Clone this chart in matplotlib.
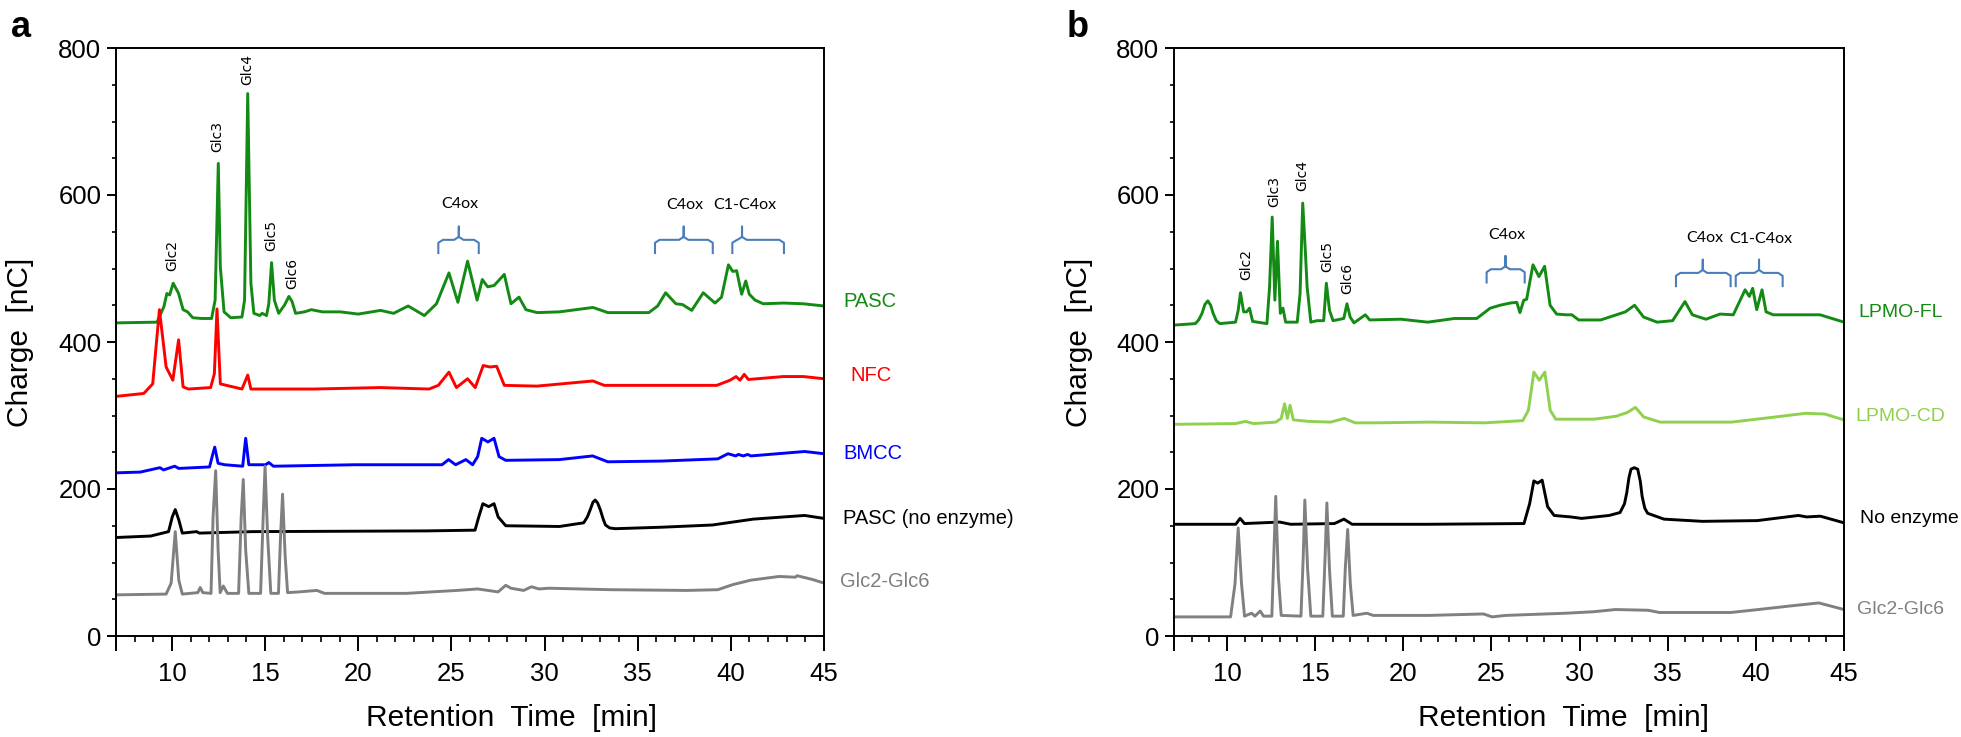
import matplotlib
matplotlib.use("Agg")
import matplotlib.pyplot as plt
from matplotlib.ticker import MultipleLocator, FixedLocator

plt.rcParams['font.family'] = ['Liberation Sans', 'DejaVu Sans']

# ---------------- Panel a data (retention time [min], charge [nC]) -------------
pasc_t = [7, 9.2, 9.57, 9.73, 9.88, 10.07, 10.36, 10.6, 10.84, 11.12, 11.6, 12.13, 12.32, 12.49, 12.6,
          12.8, 13.16, 13.76, 13.9, 14.07, 14.24, 14.4, 14.72, 14.84, 15.08, 15.2, 15.35, 15.5, 15.73,
          16.04, 16.28, 16.45, 16.64, 17.12, 17.48, 18.08, 19.04, 20.0, 21.2, 21.9, 22.68, 23.55, 24.2,
          24.87, 25.35, 25.87, 26.38, 26.66, 26.95, 27.3, 27.84, 28.2, 28.63, 29.0, 29.6, 30.8, 32.6,
          33.4, 35.6, 36.07, 36.5, 37.05, 37.4, 37.9, 38.52, 39.15, 39.5, 39.87, 40.1, 40.31, 40.58,
          40.8, 40.99, 41.3, 41.74, 42.82, 43.89, 45]
pasc_v = [426, 427, 448, 466, 464, 480, 466, 444, 441, 433, 432, 432, 457, 643, 502,
          441, 433, 434, 457, 738, 480, 439, 436, 439, 436, 452, 508, 457, 439,
          450, 462, 455, 439, 441, 444, 441, 441, 438, 443, 439, 449, 436, 452,
          494, 454, 510, 457, 485, 475, 477, 492, 452, 461, 444, 440, 441, 447,
          440, 440, 449, 467, 452, 451, 443, 467, 453, 461, 505, 496, 497, 465,
          483, 465, 457, 452, 453, 452, 449]

nfc_t = [7, 8.49, 8.97, 9.33, 9.69, 10.05, 10.36, 10.6, 10.88, 12.08, 12.28, 12.42, 12.6, 13.76,
         14.07, 14.24, 17.6, 21.2, 23.8, 24.3, 24.87, 25.27, 25.87, 26.28, 26.71, 27.07, 27.43,
         27.84, 29.6, 32.6, 33.2, 36.8, 39.24, 39.96, 40.28, 40.49, 40.72, 40.94, 42.82, 43.89, 45]
nfc_v = [326, 330, 343, 444, 366, 348, 403, 339, 336, 338, 357, 445, 343, 336,
         355, 336, 336, 338, 336, 341, 359, 338, 350, 338, 368, 366, 367,
         341, 340, 347, 341, 341, 341, 348, 353, 348, 356, 349, 353, 353, 350]

bmcc_t = [7, 8.3, 9.36, 9.55, 10.15, 10.37, 12.02, 12.2, 12.3, 12.48, 12.84, 13.8, 13.96, 14.13,
          15.03, 15.2, 15.45, 19.83, 24.5, 24.85, 25.23, 25.78, 26.14, 26.41, 26.63, 26.96, 27.29,
          27.56, 27.92, 30.8, 32.58, 33.4, 36.28, 39.3, 39.85, 40.26, 40.4, 40.67, 40.9, 41.08,
          43.96, 45]
bmcc_v = [222, 223, 229, 226, 231, 228, 230, 248, 257, 235, 233, 231, 269, 233,
          233, 236, 231, 233, 233, 240, 233, 240, 233, 244, 269, 264, 269,
          244, 239, 240, 245, 237, 238, 241, 248, 245, 247, 245, 247, 245,
          251, 248]

pasc_ne_t = [7, 8.86, 9.82, 10.02, 10.18, 10.37, 10.56, 11.33, 11.47, 14.35, 23.67, 26.27, 26.47,
             26.69, 27.0, 27.29, 27.51, 27.92, 30.8, 32.1, 32.3, 32.44, 32.6, 32.72, 32.85, 32.99,
             33.15, 33.27, 33.5, 33.8, 36.28, 39.0, 41.2, 43.96, 45]
pasc_ne_v = [134, 136, 142, 162, 172, 158, 140, 142, 140, 142, 143, 144, 162,
             180, 176, 180, 162, 150, 149, 154, 162, 171, 182, 185, 181, 172,
             159, 151, 147, 146, 148, 151, 159, 164, 160]

glc_a_t = [7, 9.69, 9.96, 10.18, 10.37, 10.56, 11.39, 11.52, 11.66, 12.1, 12.21, 12.35, 12.48, 12.59,
           12.76, 12.98, 13.58, 13.72, 13.83, 13.96, 14.13, 14.76, 14.9, 15.0, 15.14, 15.31, 15.72,
           15.83, 15.94, 16.08, 16.21, 16.82, 17.78, 18.19, 22.57, 25.3, 26.41, 27.51, 27.92, 28.2,
           28.88, 29.3, 29.7, 30.25, 33.54, 37.65, 39.3, 40.12, 41.08, 42.59, 43.47, 43.55, 44.37, 45]
glc_a_v = [56, 57, 72, 142, 76, 57, 59, 66, 59, 58, 162, 225, 117, 59,
           68, 58, 58, 162, 213, 117, 58, 58, 162, 231, 135, 58, 58,
           135, 193, 108, 59, 60, 62, 58, 58, 62, 64, 60, 69, 65,
           62, 67, 64, 65, 63, 62, 63, 70, 76, 81, 80, 82, 77, 72]

# ---------------- Panel b data -------------
fl_t = [7, 8.21, 8.4, 8.59, 8.75, 8.92, 9.08, 9.22, 9.4, 9.6, 10.49, 10.64, 10.77, 10.95, 11.12, 11.28,
        11.46, 12.27, 12.42, 12.57, 12.72, 12.87, 13.03, 13.18, 13.33, 13.99, 14.15, 14.3, 14.45,
        14.55, 14.76, 15.11, 15.49, 15.64, 15.82, 16.02, 16.63, 16.81, 16.99, 17.21, 17.85, 18.1,
        19.87, 21.39, 22.91, 24.17, 24.93, 25.49, 26.07, 26.44, 26.62, 26.84, 27.0, 27.36, 27.7,
        28.02, 28.33, 28.7, 29.24, 29.57, 29.95, 31.2, 32.6, 33.12, 33.63, 34.4, 35.28, 35.98, 36.4,
        37.17, 37.97, 38.72, 39.39, 39.63, 39.82, 40.05, 40.35, 40.58, 40.99, 42.5, 43.64, 45]
fl_v = [423, 425, 430, 439, 451, 456, 450, 439, 429, 425, 427, 443, 467, 441, 441, 446,
        428, 425, 475, 570, 457, 537, 439, 446, 427, 427, 466, 589, 523,
        475, 427, 429, 429, 480, 443, 429, 432, 452, 434, 426, 437, 430,
        431, 427, 432, 432, 446, 450, 453, 454, 440, 457, 458, 505, 489,
        503, 450, 438, 437, 437, 430, 430, 441, 450, 434, 427, 429, 455, 437,
        431, 438, 437, 471, 462, 473, 444, 471, 441, 437, 437, 437, 427]

cd_t = [7, 10.5, 11.05, 11.52, 12.77, 13.08, 13.27, 13.43, 13.58, 13.77, 14.64, 15.88, 16.66, 17.28,
        18.37, 21.48, 24.6, 26.78, 27.1, 27.41, 27.72, 28.03, 28.34, 28.65, 30.83, 32.08, 32.7,
        33.17, 33.64, 34.57, 38.62, 41.11, 42.82, 43.91, 45]
cd_v = [288, 289, 292, 289, 291, 296, 316, 296, 314, 294, 292, 291, 296, 290,
        290, 291, 290, 293, 307, 359, 348, 359, 307, 295, 295, 299, 304,
        311, 298, 291, 291, 298, 303, 302, 294]

ne_t = [7, 10.5, 10.75, 11.0, 13.0, 13.62, 16.1, 16.64, 17.1, 21.4, 26.85, 27.17, 27.41, 27.63, 27.88,
        28.19, 28.56, 29.5, 30.12, 31.68, 32.3, 32.55, 32.68, 32.8, 32.92, 33.1, 33.3, 33.45, 33.55,
        33.7, 33.86, 34.79, 36.97, 40.08, 42.42, 42.88, 43.66, 45]
ne_v = [152, 152, 160, 153, 155, 152, 153, 159, 152, 152, 153, 180, 211, 208, 212,
        176, 164, 162, 160, 164, 168, 180, 195, 215, 227, 229, 227, 210, 190,
        174, 167, 159, 156, 157, 164, 162, 163, 154]

glc_b_t = [7, 10.21, 10.46, 10.64, 10.83, 11.0, 11.4, 11.59, 11.89, 12.08, 12.55, 12.64, 12.77, 12.92,
           13.08, 14.2, 14.33, 14.42, 14.58, 14.76, 15.44, 15.57, 15.67, 15.82, 15.98, 16.6, 16.72,
           16.85, 17.0, 17.16, 17.94, 18.3, 21.43, 24.55, 25.05, 25.8, 29.23, 30.79, 32.04, 33.9,
           34.53, 38.58, 40.14, 42.0, 43.57, 45]
glc_b_v = [26, 26, 71, 147, 71, 27, 31, 27, 34, 27, 27, 94, 190, 81,
           28, 27, 108, 185, 90, 27, 27, 108, 181, 90, 27, 27, 94,
           145, 71, 28, 31, 28, 28, 30, 26, 28, 31, 33, 36, 35,
           32, 32, 36, 41, 45, 36]

# ---------------- labels ----------------
glc_names = ['Glc2', 'Glc3', 'Glc4', 'Glc5', 'Glc6']
glc_a_pos = [(10.0, 496), (12.44, 658), (14.03, 750), (15.32, 524), (16.45, 472)]
glc_b_pos = [(11.1, 485), (12.7, 584), (14.27, 605), (15.69, 495), (16.8, 465)]

series_a = [(pasc_t, pasc_v, '#138a13', 'PASC', 843, 455),
            (nfc_t, nfc_v, '#ff0000', 'NFC', 850, 354),
            (bmcc_t, bmcc_v, '#0000ff', 'BMCC', 843, 248),
            (pasc_ne_t, pasc_ne_v, '#000000', 'PASC (no enzyme)', 843, 160),
            (glc_a_t, glc_a_v, '#808080', 'Glc2-Glc6', 840, 74)]
series_b = [(fl_t, fl_v, '#138a13', 'LPMO-FL', 1858, 440),
            (cd_t, cd_v, '#8fd14f', 'LPMO-CD', 1855, 299),
            (ne_t, ne_v, '#000000', 'No enzyme', 1860, 160),
            (glc_b_t, glc_b_v, '#808080', 'Glc2-Glc6', 1857, 36)]

braces_a = [(24.3, 25.4, 26.47, 539), (35.93, 37.47, 39.03, 539), (40.08, 40.6, 42.85, 539)]
brace_labels_a = [('C4ox', 25.44, 588), ('C4ox', 37.54, 586), ('C1-C4ox', 40.75, 586)]
braces_b = [(24.73, 25.8, 26.89, 499), (35.47, 36.99, 38.57, 494), (38.86, 40.18, 41.52, 494)]
brace_labels_b = [('C4ox', 25.9, 545), ('C4ox', 37.09, 541), ('C1-C4ox', 40.3, 540)]

W, H = 1961, 737
fig = plt.figure(figsize=(W / 100, H / 100), dpi=100)

def make_ax(x0, x1):
    ax = fig.add_axes([x0 / W, (H - 636) / H, (x1 - x0) / W, 588 / H])
    ax.set_xlim(7, 45)
    ax.set_ylim(0, 800)
    ax.xaxis.set_major_locator(FixedLocator([7, 10, 15, 20, 25, 30, 35, 40, 45]))
    ax.xaxis.set_minor_locator(MultipleLocator(1))
    ax.set_xticklabels(['', '10', '15', '20', '25', '30', '35', '40', '45'])
    ax.yaxis.set_major_locator(MultipleLocator(200))
    ax.yaxis.set_minor_locator(MultipleLocator(50))
    ax.tick_params(axis='x', which='major', length=11, width=1.4, direction='out',
                   labelsize=18.5, pad=8)
    ax.tick_params(axis='x', which='minor', length=4.5, width=1.2, direction='out')
    ax.tick_params(axis='y', which='major', length=6.5, width=1.4, direction='out',
                   labelsize=18.5, pad=4)
    ax.tick_params(axis='y', which='minor', length=3, width=1.2, direction='out')
    for s in ax.spines.values():
        s.set_linewidth(1.4)
    return ax

def brace(ax, tl, tc, tr, vh, color='#4a7ebb'):
    dv_end = 18
    dv_notch = 18
    r = 0.25
    xs = [tl, tl, tl + r, tc - r, tc, tc, tc, tc + r, tr - r, tr, tr]
    ys = [vh - dv_end, vh - 4, vh, vh, vh + 4, vh + dv_notch, vh + 4, vh, vh, vh - 4, vh - dv_end]
    ax.plot(xs, ys, color=color, lw=1.5, solid_joinstyle='round')

def draw_panel(ax, series, glc_pos, braces, brace_labels, xlabel_x, lab_size):
    for t, v, c, name, lx, lv in series:
        ax.plot(t, v, color=c, lw=2.1, solid_joinstyle='round')
        ax.text(lx / W, (H - (636 - lv * 0.735)) / H, name, transform=fig.transFigure,
                color=c, fontsize=lab_size, va='center', ha='left')
    for name, (t, v) in zip(glc_names, glc_pos):
        ax.text(t, v, name, rotation=90, ha='center', va='bottom', fontsize=10,
                family='DejaVu Sans', color='black')
    for b in braces:
        brace(ax, *b)
    for name, t, v in brace_labels:
        ax.text(t, v, name, ha='center', va='center', fontsize=11.5, family='Lato',
                color='black')
    ax.set_xlabel('Retention  Time  [min]', fontsize=21.5)
    ax.xaxis.set_label_coords(xlabel_x, -0.115)
    ax.set_ylabel('Charge  [nC]', fontsize=21.5)

axa = make_ax(116, 824)
axb = make_ax(1174, 1844)
draw_panel(axa, series_a, glc_a_pos, braces_a, brace_labels_a, 0.559, 14.5)
draw_panel(axb, series_b, glc_b_pos, braces_b, brace_labels_b, 0.581, 14)
axa.yaxis.set_label_coords((34 - 116) / 708, 0.5)
axb.yaxis.set_label_coords((1093 - 1174) / 670, 0.5)

fig.text(11 / W, 1 - 37 / H, 'a', fontsize=26, fontweight='bold', ha='left', va='baseline')
fig.text(1067 / W, 1 - 37 / H, 'b', fontsize=26, fontweight='bold', ha='left', va='baseline')

fig.savefig('out.png', dpi=100)
